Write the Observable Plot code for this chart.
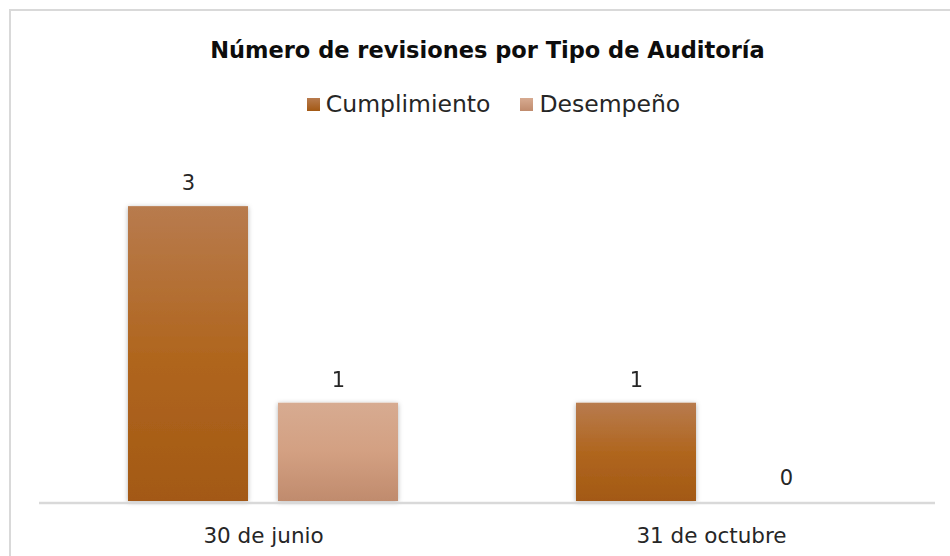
<!DOCTYPE html>
<html><head><meta charset="utf-8">
<script src="https://cdn.jsdelivr.net/npm/d3@7"></script>
<script src="https://cdn.jsdelivr.net/npm/@observablehq/plot@0.6"></script>
<style>
body{margin:0;background:#fff;}
#wrap{position:relative;width:950px;height:556px;overflow:hidden;font-family:"DejaVu Sans",sans-serif;}
#frame{position:absolute;left:9px;top:9px;width:960px;height:600px;border-left:2px solid #d9d9d9;border-top:2px solid #d9d9d9;box-sizing:border-box;}
#title{position:absolute;left:0;top:35px;width:975px;text-align:center;font-weight:bold;font-size:22.5px;color:#0d0d0d;line-height:30px;}
#legend{position:absolute;left:0;top:89px;width:987px;text-align:center;font-size:23.5px;color:#262626;line-height:30px;white-space:nowrap;}
#legend span.item{display:inline-block;margin:0 15px;}
#legend span.sw{display:inline-block;width:13px;height:13px;margin-right:6px;vertical-align:1px;}
#chart{position:absolute;left:0;top:0;}
</style></head>
<body>
<div id="wrap">
  <div id="frame"></div>
  <div id="chart"></div>
  <div id="title"></div>
  <div id="legend"></div>
</div>
<script>
const title = "Número de revisiones por Tipo de Auditoría";
const categories = ["30 de junio", "31 de octubre"];
const series = ["Cumplimiento", "Desempeño"];
const cumplimiento = [3, 1];
const desempeno = [1, 0];
const gradients = {
  "Cumplimiento": ["#b87b4e", "#b0661f", "#a35914"],
  "Desempeño": ["#d7ab91", "#d3a082", "#c08b6d"]
};

const data = [];
categories.forEach((c, i) => {
  data.push({cat: c, serie: series[0], value: cumplimiento[i]});
  data.push({cat: c, serie: series[1], value: desempeno[i]});
});
const gid = s => "grad" + series.indexOf(s);

document.getElementById("title").textContent = title;
const leg = document.getElementById("legend");
series.forEach(s => {
  const it = document.createElement("span"); it.className = "item";
  const sw = document.createElement("span"); sw.className = "sw";
  sw.style.background = `linear-gradient(${gradients[s][0]}, ${gradients[s][2]})`;
  it.appendChild(sw);
  it.appendChild(document.createTextNode(s));
  leg.appendChild(it);
});

const plot = Plot.plot({
  width: 950,
  height: 556,
  marginTop: 157,
  marginBottom: 55,
  marginLeft: 39,
  marginRight: 15,
  style: {fontFamily: "DejaVu Sans, sans-serif", fontSize: "21.5px", color: "#262626", background: "transparent", overflow: "visible"},
  fx: {domain: categories, paddingInner: 0, paddingOuter: 0, axis: "bottom", label: null, tickSize: 0, tickPadding: 26},
  x: {domain: series, axis: null, paddingInner: 0.2, paddingOuter: 0.593},
  y: {domain: [0, 3.5], axis: null},
  facet: {data, x: "cat"},
  marks: [
    Plot.barY(data, {x: "serie", y: "value", fill: d => `url(#${gid(d.serie)})`, filter: d => d.value > 0}),
    Plot.ruleY([0], {stroke: "#d9d9d9", strokeWidth: 2.5, dy: 1.5}),
    Plot.text(data, {x: "serie", y: "value", text: d => String(d.value), dy: -23, fill: "#262626", fontSize: 21})
  ]
});

const svg = d3.select(plot);
const defs = svg.insert("defs", ":first-child");
series.forEach(s => {
  const g = defs.append("linearGradient").attr("id", gid(s)).attr("x1", 0).attr("y1", 0).attr("x2", 0).attr("y2", 1);
  g.append("stop").attr("offset", "0%").attr("stop-color", gradients[s][0]);
  g.append("stop").attr("offset", "50%").attr("stop-color", gradients[s][1]);
  g.append("stop").attr("offset", "100%").attr("stop-color", gradients[s][2]);
});
const f = defs.append("filter").attr("id", "shadow").attr("x", "-20%").attr("y", "-20%").attr("width", "140%").attr("height", "140%");
f.append("feDropShadow").attr("dx", 0).attr("dy", 1).attr("stdDeviation", 2.5).attr("flood-color", "#000").attr("flood-opacity", 0.3);
svg.selectAll("g[aria-label='bar']").attr("filter", "url(#shadow)");

document.getElementById("chart").appendChild(plot);
</script>
</body></html>
